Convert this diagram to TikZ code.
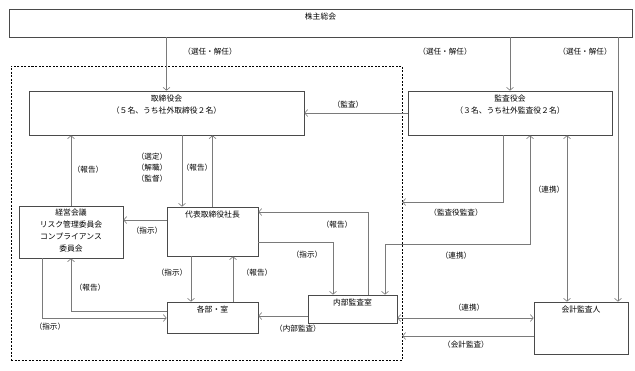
\documentclass[tikz,border=0pt]{standalone}
\usepackage{fontspec}
\setmainfont{Noto Sans CJK JP}
\usetikzlibrary{arrows.meta}
\definecolor{linegray}{HTML}{7A7A7A}
\definecolor{boxgray}{HTML}{4A4A4A}
\begin{document}
\begin{tikzpicture}[
    x=1pt, y=-1pt,
    box/.style={draw=boxgray, line width=0.7pt, inner sep=0pt},
    head/.style={anchor=north, align=center, inner sep=0pt, yshift=-4pt, font=\fontsize{7.8}{12}\selectfont},
    lab/.style={font=\fontsize{7.6}{11}\selectfont, align=center, inner sep=0pt},
    arr/.style={draw=linegray, line width=0.6pt, -{Straight Barb[length=3pt,width=7pt]}},
    link/.style={draw=linegray, line width=0.6pt, {Straight Barb[length=3pt,width=7pt]}-{Straight Barb[length=3pt,width=7pt]}}
]
    \useasboundingbox (0,0) rectangle (635,370);

    % 株主総会
    \node[box, minimum width=623, minimum height=28, label={[head]north:株主総会}] (kabunushi) at (320.5,23) {};

    % 業務執行の枠
    \node[draw, line width=0.6pt, dash pattern=on 2pt off 1.5pt, inner sep=0pt, minimum width=391, minimum height=294] (shikko) at (206.5,213) {};

    % 取締役会・監査役会
    \node[box, minimum width=275, minimum height=44, label={[head]north:{取締役会\\（５名、うち社外取締役２名）}}] (torikai) at (166.5,113) {};
    \node[box, minimum width=204, minimum height=44, label={[head]north:{監査役会\\（３名、うち社外監査役２名）}}] (kansakai) at (510,113) {};

    % 執行側
    \node[box, minimum width=104, minimum height=52, label={[head, yshift=1pt]north:{経営会議\\リスク管理委員会\\コンプライアンス\\委員会}}] (keiei) at (71,232) {};
    \node[box, minimum width=91, minimum height=49, label={[head]north:代表取締役社長}] (shacho) at (212.5,231.5) {};
    \node[box, minimum width=91, minimum height=31, label={[head]north:各部・室}] (kakubu) at (212.5,317.5) {};
    \node[box, minimum width=89, minimum height=28, label={[head]north:内部監査室}] (naibu) at (352.5,309) {};

    % 会計監査人
    \node[box, minimum width=94, minimum height=52, label={[head]north:会計監査人}] (kaikei) at (581,328) {};

    % 選任・解任
    \draw[arr] (kabunushi.south -| torikai.north) -- (torikai.north);
    \draw[arr] (kabunushi.south -| kansakai.north) -- (kansakai.north);
    \draw[arr] (618,0 |- kabunushi.south) -- (618,0 |- kaikei.north);
    \node[lab] (senin1) at (210,52) {（選任・解任）};
    \node[lab] (senin2) at (445,52) {（選任・解任）};
    \node[lab] (senin3) at (585,52) {（選任・解任）};

    % 取締役会まわり
    \draw[arr] (kansakai.west) -- (torikai.east);
    \node[lab] (kansa) at (348,105) {（監査）};
    \draw[arr] (keiei.north) -- (keiei.north |- torikai.south);
    \node[lab] (hokoku1) at (88,170) {（報告）};
    \draw[arr] (182,0 |- torikai.south) -- (182,0 |- shacho.north);
    \node[lab] (sentei) at (152,168) {（選定）\\（解職）\\（監督）};
    \draw[arr] (shacho.north) -- (shacho.north |- torikai.south);
    \node[lab] (hokoku2) at (197,168) {（報告）};

    % 代表取締役社長まわり
    \draw[arr] (shacho.west |- 0,220) -- (keiei.east |- 0,220);
    \node[lab] (shiji1) at (147,231) {（指示）};
    \draw[arr] (191,0 |- shacho.south) -- (191,0 |- kakubu.north);
    \node[lab] (shiji2) at (172,273) {（指示）};
    \draw[arr] (233,0 |- kakubu.north) -- (233,0 |- shacho.south);
    \node[lab] (hokoku3) at (257,273) {（報告）};

    % 経営会議と各部・室
    \draw[arr] (42,0 |- keiei.south) |- (kakubu.west |- 0,318);
    \node[lab] (shiji3) at (50,327) {（指示）};
    \draw[arr] (kakubu.west |- 0,311) -| (keiei.south);
    \node[lab] (hokoku4) at (90,288) {（報告）};

    % 内部監査室
    \draw[arr] (naibu.west |- 0,316) -- (kakubu.east |- 0,316);
    \node[lab] (naibukansa) at (298,329) {（内部監査）};
    \draw[arr] (368,0 |- naibu.north) |- (shacho.east |- 0,212);
    \node[lab] (hokoku5) at (337,225) {（報告）};
    \draw[arr] (shacho.east |- 0,242) -| (333,0 |- naibu.north);
    \node[lab] (shiji4) at (307,255) {（指示）};

    % 監査役会から
    \draw[arr] (503,0 |- kansakai.south) |- (shikko.east |- 0,202);
    \node[lab] (kansayaku) at (456,213) {（監査役監査）};
    \draw[link] (530,0 |- kansakai.south) -- (530,244) -| (385,0 |- naibu.north);
    \node[lab] (renkei1) at (456,256) {（連携）};
    \draw[link] (567,0 |- kansakai.south) -- (567,0 |- kaikei.north);
    \node[lab] (renkei2) at (549,190) {（連携）};

    % 会計監査人から
    \draw[link] (naibu.east |- 0,318) -- (kaikei.west |- 0,318);
    \node[lab] (renkei3) at (469,308) {（連携）};
    \draw[arr] (kaikei.west |- 0,336) -- (shikko.east |- 0,336);
    \node[lab] (kaikeikansa) at (466,345) {（会計監査）};
\end{tikzpicture}
\end{document}
